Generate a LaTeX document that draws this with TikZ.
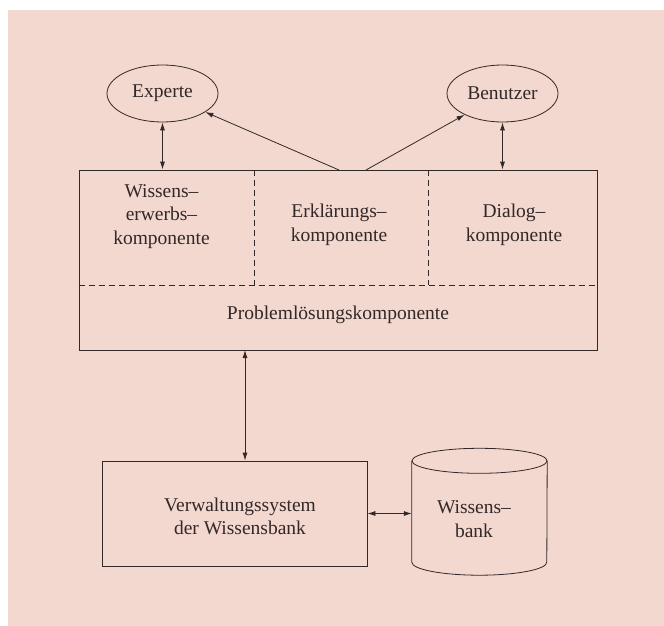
\documentclass[tikz,border=0pt]{standalone}
\usepackage{fontspec}
\setmainfont{Liberation Serif}
\usepackage{tikz}
\usetikzlibrary{shapes.geometric,arrows.meta}
\usepackage{xcolor}
\definecolor{paper}{RGB}{243,216,207}
\definecolor{ink}{RGB}{50,40,40}

\begin{document}
\begin{tikzpicture}[x=1pt,y=-1pt,
    every node/.style={text=ink,font=\fontsize{19.5}{23.5}\selectfont,align=center},
    line/.style={draw=ink,line width=0.8pt},
    tip/.style={line,-{Latex[length=8pt,width=5pt]}},
    twotip/.style={line,{Latex[length=8pt,width=5pt]}-{Latex[length=8pt,width=5pt]}},
    person/.style={line,ellipse,minimum width=111pt,minimum height=57pt,inner sep=0pt},
    part/.style={line,dash pattern=on 6pt off 4pt}]
		\useasboundingbox (0,0) rectangle (664,626);
		\fill[white] (0,0) rectangle (664,626);
		\fill[paper] (8,10) rectangle (664,626); % scanned page

		\node[person] (Experte)  at (162.5,93.5) {Experte};
		\node[person] (Benutzer) at (502.5,93.5) {Benutzer};

		\node[line,minimum width=518pt,minimum height=180pt,inner sep=0pt] (system) at (338,260) {};
		\draw[part] (system.west |- 0,285) -- (system.east |- 0,285);% split of the box
		\foreach \x in {254,428}{%
		  \draw[part] (\x,170) -- (\x,285);
		}
		\node (erwerb)  at (161.5,216.5) {Wissens--\\erwerbs--\\komponente};
		\node (erklaer) at (339,225) {Erklärungs--\\komponente};
		\node (dialog)  at (514,225) {Dialog--\\komponente};
		\node (problem) at (338,315) {Problemlösungskomponente};

		\node[line,minimum width=265pt,minimum height=105pt,inner sep=0pt] (verw) at (234.5,513.5) {};
		\node (verwlabel) at (240,516.5) {Verwaltungssystem\\der Wissensbank};

		\node[minimum width=135pt,minimum height=101pt,inner sep=0pt] (bank) at (479.5,511.5) {};
		\draw[line] (bank.north west) -- (bank.south west)
		  arc[start angle=180,end angle=0,x radius=67.5,y radius=13] -- (bank.north east);
		\draw[line] (bank.north) ellipse[x radius=67.5,y radius=12.5];
		\node (banklabel) at (474,519) {Wissens--\\bank};

		\coordinate (erklL) at (339,170);
		\coordinate (erklR) at (366,170);
		\coordinate (link)  at (245,350);
		\coordinate (bankin) at (bank.west |- verw.east);

		\draw[twotip] (Experte.south) -- (Experte.south |- system.north);
		\draw[twotip] (Benutzer.south) -- (Benutzer.south |- system.north);
		\draw[tip] (erklL) -- (Experte);
		\draw[tip] (erklR) -- (Benutzer);
		\draw[twotip] (link) -- (link |- verw.north);
		\draw[twotip] (verw.east) -- (bankin);
	  \end{tikzpicture}
\end{document}
